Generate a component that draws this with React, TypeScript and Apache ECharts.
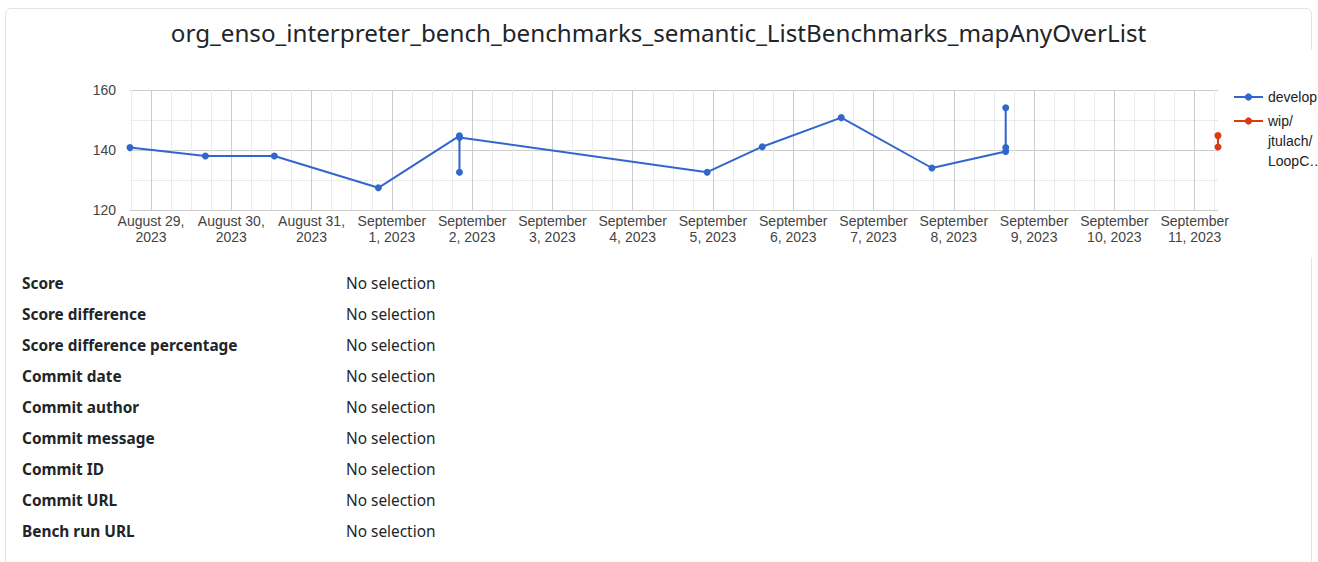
import React, { useEffect, useRef } from "react";
import * as echarts from "echarts";

const TITLE = "org_enso_interpreter_bench_benchmarks_semantic_ListBenchmarks_mapAnyOverList";

const DEVELOP_NAME = "develop";
const developTimes = [
  "2023-08-28T17:43:00Z",
  "2023-08-29T16:15:00Z",
  "2023-08-30T12:52:00Z",
  "2023-08-31T19:58:00Z",
  "2023-09-01T20:12:00Z",
  "2023-09-01T20:13:00Z",
  "2023-09-01T20:14:00Z",
  "2023-09-04T22:16:00Z",
  "2023-09-05T14:44:00Z",
  "2023-09-06T14:21:00Z",
  "2023-09-07T17:27:00Z",
  "2023-09-08T15:30:00Z",
  "2023-09-08T15:31:00Z",
  "2023-09-08T15:32:00Z",
];
const developScores = [140.8, 138.0, 138.0, 127.4, 144.7, 132.6, 144.2, 132.6, 141.1, 150.8, 134.0, 139.5, 154.1, 140.8];

const WIP_NAME = "wip/jtulach/LoopC…";
const WIP_LEGEND_LINES = ["wip/", "jtulach/", "LoopC…"];
const wipTimes = ["2023-09-11T06:58:00Z", "2023-09-11T06:59:00Z"];
const wipScores = [144.8, 141.0];

const dayTicks = [
  "2023-08-29", "2023-08-30", "2023-08-31", "2023-09-01", "2023-09-02", "2023-09-03", "2023-09-04",
  "2023-09-05", "2023-09-06", "2023-09-07", "2023-09-08", "2023-09-09", "2023-09-10", "2023-09-11",
];
const yMin = 120;
const yMax = 160;
const yStep = 20;

const MONTHS = [
  "January", "February", "March", "April", "May", "June",
  "July", "August", "September", "October", "November", "December",
];

const detailLabels = [
  "Score",
  "Score difference",
  "Score difference percentage",
  "Commit date",
  "Commit author",
  "Commit message",
  "Commit ID",
  "Commit URL",
  "Bench run URL",
];
const detailValue = "No selection";

const CHART_FONT = 'Arial, "Liberation Sans", sans-serif';

export default function App() {
  const ref = useRef<HTMLDivElement>(null);

  useEffect(() => {
    if (!ref.current) return;
    const chart = echarts.init(ref.current, null, { renderer: "svg" });

    const devMs = developTimes.map((t) => Date.parse(t));
    const wipMs = wipTimes.map((t) => Date.parse(t));
    const allMs = devMs.concat(wipMs);
    const xMin = Math.min(...allMs);
    const xMax = Math.max(...allMs);

    const majorTicks = dayTicks.map((d) => Date.parse(d + "T00:00:00Z"));
    const quarter = 6 * 3600 * 1000;
    const minorTicks: number[] = [];
    const firstDay = majorTicks[0] - 4 * quarter;
    const lastDay = majorTicks[majorTicks.length - 1] + 4 * quarter;
    for (let t = firstDay; t <= lastDay; t += quarter) {
      if (t >= xMin && t <= xMax) minorTicks.push(t);
    }

    const fmt = (v: number) => {
      const d = new Date(v);
      const m = MONTHS[d.getUTCMonth()];
      const day = d.getUTCDate();
      const y = d.getUTCFullYear();
      return m.length > 6 ? `${m}\n${day}, ${y}` : `${m} ${day},\n${y}`;
    };

    // two leading blank lines so the first text line sits level with the icon
    const wipLegendText = "\n\n" + WIP_LEGEND_LINES.join("\n");

    const option: any = {
      animation: false,
      backgroundColor: "#ffffff",
      grid: { left: 124, right: 100, top: 40, bottom: 47, containLabel: false },
      xAxis: [
        {
          type: "value",
          position: "bottom",
          offset: 0,
          min: xMin,
          max: xMax,
          axisLine: { show: false },
          axisTick: { show: false, customValues: minorTicks },
          axisLabel: { show: false, customValues: minorTicks },
          splitLine: { show: true, lineStyle: { color: "#ebebeb", width: 1 } },
        },
        {
          type: "value",
          position: "bottom",
          offset: 0,
          min: xMin,
          max: xMax,
          axisLine: { show: false },
          axisTick: { show: false, customValues: majorTicks },
          axisLabel: {
            show: true,
            customValues: majorTicks,
            formatter: fmt,
            color: "#444444",
            fontSize: 14,
            lineHeight: 16,
            margin: 3,
            fontFamily: CHART_FONT,
          },
          splitLine: { show: true, lineStyle: { color: "#cccccc", width: 1 } },
        },
      ],
      yAxis: {
        type: "value",
        min: yMin,
        max: yMax,
        interval: yStep,
        axisLine: { show: false },
        axisTick: { show: false },
        axisLabel: { color: "#444444", fontSize: 14, margin: 14, fontFamily: CHART_FONT },
        splitLine: { show: true, lineStyle: { color: "#cccccc", width: 1 } },
        minorTick: { show: false, splitNumber: 2 },
        minorSplitLine: { show: true, lineStyle: { color: "#ebebeb", width: 1 } },
      },
      legend: [
        {
          data: [DEVELOP_NAME],
          orient: "vertical",
          left: 1227,
          top: 37,
          padding: 0,
          itemWidth: 29,
          itemHeight: 9,
          selectedMode: false,
          textStyle: { fontSize: 14, color: "#222222", lineHeight: 20, fontFamily: CHART_FONT },
        },
        {
          data: [WIP_NAME],
          orient: "vertical",
          left: 1227,
          top: 21,
          padding: 0,
          itemWidth: 29,
          itemHeight: 9,
          selectedMode: false,
          formatter: () => wipLegendText,
          textStyle: {
            fontSize: 14,
            color: "#222222",
            lineHeight: 20,
            fontFamily: CHART_FONT,
          },
        },
      ],
      series: [
        {
          name: DEVELOP_NAME,
          type: "line",
          xAxisIndex: 1,
          data: devMs.map((t, i) => [t, developScores[i]]),
          symbol: "circle",
          symbolSize: 7,
          showSymbol: true,
          clip: false,
          color: "#3366cc",
          lineStyle: { color: "#3366cc", width: 2 },
          itemStyle: { color: "#3366cc" },
        },
        {
          name: WIP_NAME,
          type: "line",
          xAxisIndex: 1,
          data: wipMs.map((t, i) => [t, wipScores[i]]),
          symbol: "circle",
          symbolSize: 7,
          showSymbol: true,
          clip: false,
          color: "#dc3912",
          lineStyle: { color: "#dc3912", width: 2 },
          itemStyle: { color: "#dc3912" },
        },
      ],
    };

    chart.setOption(option);
    return () => chart.dispose();
  }, []);

  return (
    <div
      style={{
        position: "relative",
        width: 1318,
        height: 562,
        overflow: "hidden",
        background: "#ffffff",
        fontFamily: '"Noto Sans", "Open Sans", sans-serif',
        color: "#212529",
      }}
    >
      <style>{`body{margin:0;overflow:hidden;}`}</style>
      <div
        style={{
          position: "absolute",
          left: 5,
          top: 8,
          width: 1305,
          height: 620,
          border: "1px solid #e3e3e3",
          borderRadius: 6,
        }}
      />
      <div
        style={{
          position: "absolute",
          left: 5,
          top: 18,
          width: 1307,
          textAlign: "center",
          fontSize: 24.2,
          lineHeight: "30px",
          whiteSpace: "nowrap",
        }}
      >
        {TITLE}
      </div>
      <div ref={ref} style={{ position: "absolute", left: 6, top: 50, width: 1312, height: 207 }} />
      <div style={{ position: "absolute", left: 22, top: 268 }}>
        {detailLabels.map((l) => (
          <div key={l} style={{ display: "flex", height: 31, lineHeight: "31px", fontSize: 15.4 }}>
            <div style={{ width: 324, fontWeight: 700 }}>{l}</div>
            <div>{detailValue}</div>
          </div>
        ))}
      </div>
    </div>
  );
}
